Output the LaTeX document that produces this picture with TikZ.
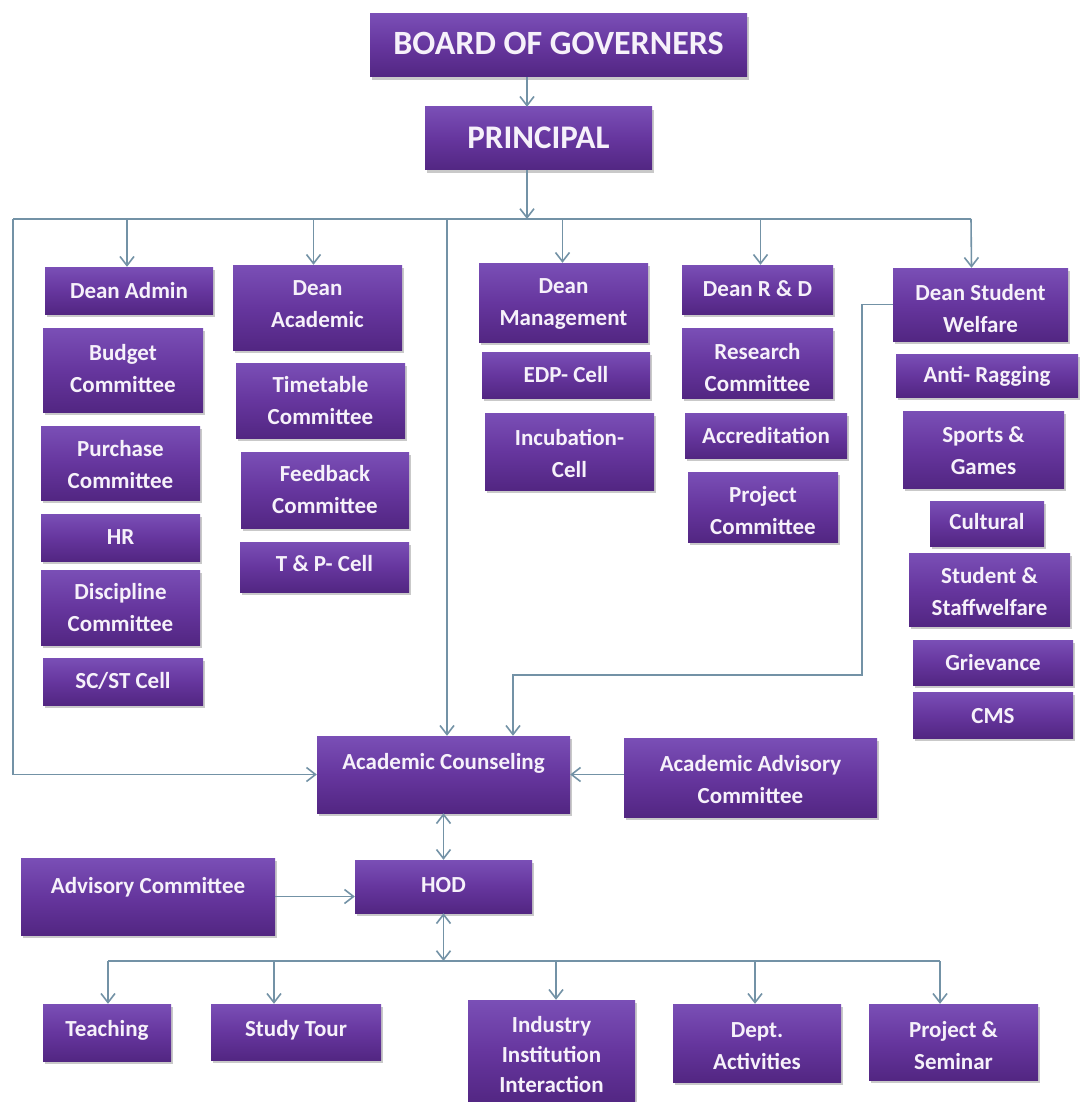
\documentclass[tikz,border=0pt]{standalone}
\usepackage{fontspec}
\setmainfont{Carlito}
\usetikzlibrary{arrows.meta,shadows,calc}
\definecolor{boxtop}{HTML}{7A4FB6}
\definecolor{boxmid}{HTML}{66369E}
\definecolor{boxbot}{HTML}{522682}
\definecolor{conncol}{HTML}{7392A6}
\definecolor{txtcol}{HTML}{F6F1FA}
\tikzset{
  orgbox/.style={rectangle, inner sep=0pt, draw=none, top color=boxtop, bottom color=boxbot, middle color=boxmid,
    drop shadow={shadow xshift=2pt, shadow yshift=-3pt, opacity=0.35, fill=black!60}},
  orgtxt/.style={inner sep=0pt, align=center, text=txtcol, font=\bfseries\fontsize{23}{32}\selectfont},
  conn/.style={draw=conncol, line width=1.6pt},
  arr/.style={conn, -{Straight Barb[length=9pt,width=14pt]}},
  darr/.style={conn, {Straight Barb[length=9pt,width=14pt]}-{Straight Barb[length=9pt,width=14pt]}},
}
% \bx[text options]{name}{x1}{y1}{x2}{y2}{text y}{text}
\newcommand{\bx}[8][]{%
  \node[orgbox, minimum width={#5-#3}, minimum height={#6-#4}] (#2) at ({(#3+#5)/2},{(#4+#6)/2}) {};
  \node[orgtxt,#1] (#2-t) at ({(#3+#5)/2},#7) {#8};
}
\begin{document}
\begin{tikzpicture}[x=1pt,y=-1pt]
\fill[white] (0,0) rectangle (1083,1102);
\useasboundingbox (0,0) rectangle (1083,1102);

% top
\bx[font=\bfseries\fontsize{34}{40}\selectfont]{bog}{370}{14}{747}{77}{43}{BOARD OF GOVERNERS}
\bx[font=\bfseries\fontsize{33}{40}\selectfont]{prin}{425}{107}{652}{170}{138}{PRINCIPAL}

% column 1
\bx{dadmin}{45}{267}{213}{314}{291}{Dean Admin}
\bx{budget}{43}{328}{203}{412}{369}{Budget\\Committee}
\bx{purch}{41}{426}{200}{500}{465}{Purchase\\Committee}
\bx{hr}{41}{514}{200}{561}{537}{HR}
\bx{disc}{41}{570}{200}{645}{608}{Discipline\\Committee}
\bx{scst}{43}{658}{203}{705}{681}{SC/ST Cell}
% column 2
\bx{dacad}{233}{265}{402}{350}{304}{Dean\\Academic}
\bx{ttable}{236}{363}{405}{438}{401}{Timetable\\Committee}
\bx{fback}{241}{452}{409}{528}{490}{Feedback\\Committee}
\bx{tnp}{240}{542}{409}{592}{564}{T \& P- Cell}
% column 3
\bx{dmgmt}{479}{263}{648}{342}{304}{Dean\\Management}
\bx{edp}{482}{352}{650}{398}{375}{EDP- Cell}
\bx{incub}{485}{413}{654}{490}{453}{Incubation-\\Cell}
% column 4
\bx{drd}{682}{265}{833}{314}{289}{Dean R \& D}
\bx{research}{682}{328}{833}{398}{368}{Research\\Committee}
\bx{accr}{685}{413}{847}{458}{435}{Accreditation}
\bx{projc}{688}{472}{838}{542}{511}{Project\\Committee}
% column 5
\bx{dsw}{893}{268}{1068}{341}{309}{Dean Student\\Welfare}
\bx{antir}{896}{354}{1078}{397}{376}{Anti- Ragging}
\bx{sports}{903}{411}{1064}{488}{451}{Sports \&\\Games}
\bx{cult}{930}{501}{1044}{546}{522}{Cultural}
\bx{ssw}{909}{553}{1070}{626}{592}{Student \&\\Staffwelfare}
\bx{griev}{913}{640}{1073}{685}{663}{Grievance}
\bx{cms}{913}{692}{1073}{738}{716}{CMS}

% middle
\bx{ac}{317}{736}{570}{813}{763}{Academic Counseling}
\bx{aac}{624}{738}{877}{817}{780}{Academic Advisory\\Committee}
\bx{adv}{21}{858}{275}{935}{887}{Advisory Committee}
\bx{hod}{355}{860}{532}{913}{885}{HOD}

% bottom
\bx{teach}{43}{1004}{171}{1061}{1030}{Teaching}
\bx{tour}{211}{1004}{381}{1060}{1030}{Study Tour}
\bx[font=\bfseries\fontsize{23}{30}\selectfont]{iii}{468}{1000}{635}{1104}{1055}{Industry\\Institution\\Interaction}
\bx{dept}{673}{1004}{841}{1082}{1046}{Dept.\\Activities}
\bx{projs}{869}{1004}{1038}{1080}{1046}{Project \&\\Seminar}

% connectors
\coordinate (pa) at (527,0);
\draw[arr] (bog.south -| pa) -- (prin.north -| pa);
\coordinate (busL) at (13,219);
\coordinate (busR) at (971,219);
\draw[conn] (busL) -- (busR);
\draw[arr] (prin.south -| pa) -- (pa |- busL);
\coordinate (dadminT) at ([xshift=-2pt]dadmin.north);
\coordinate (dacadT) at ([xshift=-4pt]dacad.north);
\coordinate (dmgmtT) at ([xshift=-1pt]dmgmt.north);
\coordinate (drdT) at ([xshift=3pt]drd.north);
\coordinate (dswT) at ([xshift=-9pt]dsw.north);
\draw[arr] (busL -| dadminT) -- (dadminT);
\draw[arr] (busL -| dacadT) -- (dacadT);
\draw[arr] (busL -| dmgmtT) -- (dmgmtT);
\draw[arr] (busL -| drdT) -- (drdT);
\draw[arr] (busR) -- (dswT);

\draw[arr] (busL) |- (ac.west);
\coordinate (midT) at (447,219);
\draw[arr] (midT) -- (midT |- ac.north);
\coordinate (k1) at (862,675);
\coordinate (acT2) at ([xshift=69.5pt]ac.north);
\draw[arr] (dsw.west) -| (k1) -| (acT2);
\draw[arr] (aac.west |- ac.east) -- (ac.east);
\draw[darr] (ac.south) -- (hod.north);
\draw[arr] (adv.east) -- (adv.east -| hod.west);

\coordinate (b2L) at (108,961);
\coordinate (b2R) at (940,961);
\draw[conn] (b2L) -- (b2R);
\draw[darr] (hod.south) -- (hod.south |- b2L);
\coordinate (tourT) at ([xshift=-22pt]tour.north);
\coordinate (iiiT) at ([xshift=4.5pt]iii.north);
\coordinate (deptT) at ([xshift=-2pt]dept.north);
\draw[arr] (b2L) -- (b2L |- teach.north);
\draw[arr] (b2L -| tourT) -- (tourT);
\draw[arr] (b2L -| iiiT) -- (iiiT);
\draw[arr] (b2L -| deptT) -- (deptT);
\draw[arr] (b2R) -- (b2R |- projs.north);
\end{tikzpicture}
\end{document}
